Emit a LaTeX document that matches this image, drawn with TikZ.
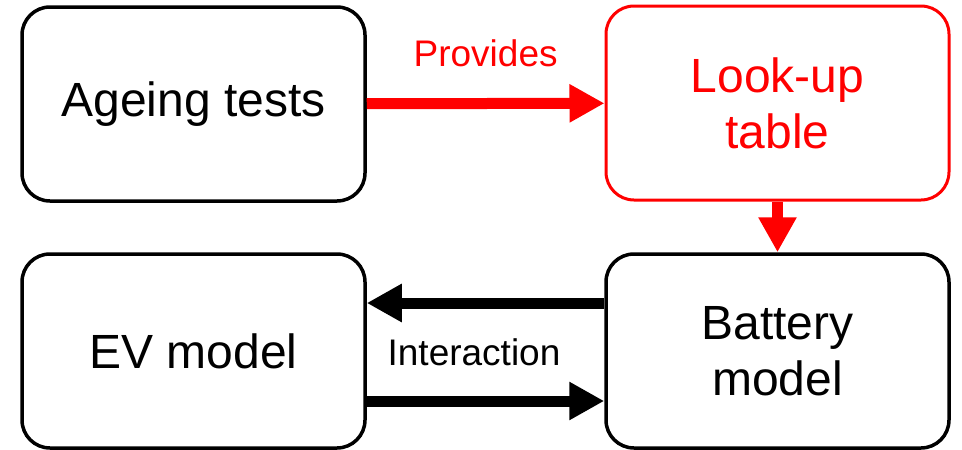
\documentclass[tikz,border=0pt]{standalone}
\usepackage{fontspec}
\setmainfont{Liberation Sans}
\usetikzlibrary{arrows.meta}
\definecolor{lookred}{HTML}{FF0000}

\begin{document}
\begin{tikzpicture}[x=1pt, y=-1pt, >={Triangle[length=35pt,width=36pt]},
  block/.style={draw, rounded corners=28pt, line width=3.5pt,
    minimum width=343pt, minimum height=194pt, align=center,
    font=\fontsize{48}{56}\selectfont},
  flow/.style={->, line width=11pt},
  tag/.style={font=\fontsize{37}{44}\selectfont}]
  \useasboundingbox (0,0) rectangle (962,450);

  \node [block] (ageing) at (193.5,104) {Ageing tests};

  \node [block, draw=lookred, text=lookred, line width=3pt] (lookup)
  at (777.5,103) {Look-up\\table};

  \node [block] (ev) at (193.5,351) {EV model};

  \node [block] (battery) at (777.5,351) {Battery\\model};

  \draw [flow, draw=lookred] (ageing) -- node [above=28pt, tag, text=lookred]
  {Provides} (lookup); % provides

  \draw [flow, draw=lookred] (lookup) -- (battery);

  \draw [flow] ([yshift=48pt]battery.west) -- ([yshift=48pt]ev.east);
  \draw [flow] ([yshift=-50pt]ev.east) -- ([yshift=-50pt]battery.west);

  \node [tag] (interact) at (474,352) {Interaction};

\end{tikzpicture}
\end{document}
